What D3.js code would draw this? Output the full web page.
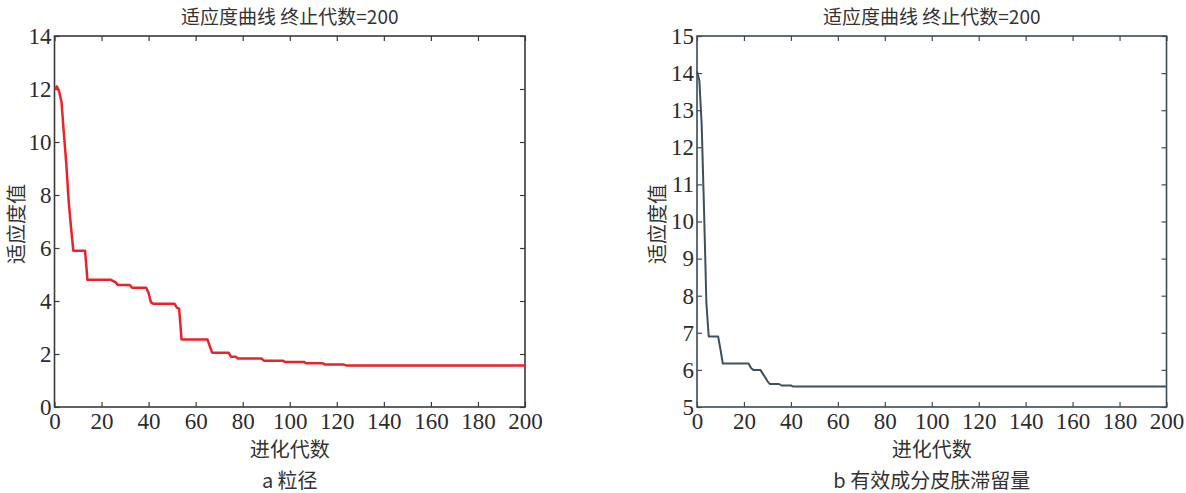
<!DOCTYPE html>
<html>
<head>
<meta charset="utf-8">
<script src="https://cdn.jsdelivr.net/npm/d3@7"></script>
<style>
  body { margin: 0; background: #fff; }
</style>
</head>
<body>
<script>
// generation / fitness pairs
var genA = [0, 1, 2, 3, 4, 5, 6, 7, 8, 13, 14, 24, 25, 26, 27, 32, 33, 39, 40, 41, 42, 51, 52, 53, 54, 65, 66, 67, 74, 75, 77, 78, 88, 89, 97, 98, 106, 107, 114, 115, 123, 124, 200];
var fitA = [12.0, 12.1, 11.9, 11.5, 10.3, 9.2, 7.8, 6.8, 5.9, 5.9, 4.8, 4.8, 4.75, 4.7, 4.6, 4.6, 4.5, 4.5, 4.3, 3.95, 3.9, 3.9, 3.75, 3.7, 2.55, 2.55, 2.3, 2.05, 2.05, 1.9, 1.9, 1.83, 1.83, 1.75, 1.75, 1.7, 1.7, 1.65, 1.65, 1.6, 1.6, 1.57, 1.57];

var genB = [0, 1, 2, 3, 4, 5, 9, 10, 11, 22, 23, 24, 27, 28, 29, 30, 31, 35, 36, 40, 41, 200];
var fitB = [14.05, 13.8, 12.6, 10.3, 7.8, 6.9, 6.9, 6.55, 6.17, 6.17, 6.05, 6.0, 6.0, 5.9, 5.8, 5.7, 5.62, 5.62, 5.58, 5.58, 5.55, 5.55];

var xTicks = [0, 20, 40, 60, 80, 100, 120, 140, 160, 180, 200];
var yTicksA = [0, 2, 4, 6, 8, 10, 12, 14];
var yTicksB = [5, 6, 7, 8, 9, 10, 11, 12, 13, 14, 15];

var chartTitle = "适应度曲线 终止代数=200";
var xLabel = "进化代数";
var yLabel = "适应度值";
var captions = ["a 粒径", "b 有效成分皮肤滞留量"];

var serif = "Liberation Serif";
var cjk = "Noto Sans CJK SC";

var svg = d3.select("body").append("svg")
  .attr("width", 1186)
  .attr("height", 493);

var panels = [
  { left: 54.5, right: 525, top: 36, bottom: 407, gen: genA, fit: fitA, yDomain: [0, 14], yTicks: yTicksA,
    line: "#e8232b", lineWidth: 2.5, frame: "#3a3a3a", yLabelX: 17, caption: captions[0] },
  { left: 697, right: 1166.5, top: 36, bottom: 407, gen: genB, fit: fitB, yDomain: [5, 15], yTicks: yTicksB,
    line: "#3e505c", lineWidth: 2, frame: "#3c4b56", yLabelX: 658, caption: captions[1] }
];

panels.forEach(function (p) {
  var x = d3.scaleLinear().domain([0, 200]).range([p.left, p.right]);
  var y = d3.scaleLinear().domain(p.yDomain).range([p.bottom, p.top]);
  var g = svg.append("g");
  var cx = (p.left + p.right) / 2;

  // inward ticks on all four sides, like the matlab box
  g.append("g").attr("transform", "translate(0," + p.bottom + ")")
    .call(d3.axisBottom(x).tickValues(xTicks).tickSizeInner(-5).tickSizeOuter(0).tickPadding(6));
  g.append("g").attr("transform", "translate(0," + p.top + ")")
    .call(d3.axisTop(x).tickValues(xTicks).tickSizeInner(-5).tickSizeOuter(0).tickFormat(""));
  g.append("g").attr("transform", "translate(" + p.left + ",0)")
    .call(d3.axisLeft(y).tickValues(p.yTicks).tickSizeInner(-5).tickSizeOuter(0).tickPadding(3));
  g.append("g").attr("transform", "translate(" + p.right + ",0)")
    .call(d3.axisRight(y).tickValues(p.yTicks).tickSizeInner(-5).tickSizeOuter(0).tickFormat(""));

  g.selectAll(".domain").remove();
  g.selectAll(".tick line").attr("stroke", p.frame).attr("stroke-width", 1.2);
  g.selectAll(".tick text")
    .attr("font-family", serif)
    .attr("font-size", 23)
    .attr("fill", "#2b2b2b");

  g.append("rect")
    .attr("x", p.left).attr("y", p.top)
    .attr("width", p.right - p.left).attr("height", p.bottom - p.top)
    .attr("fill", "none").attr("stroke", p.frame).attr("stroke-width", 1.6);

  var pts = p.gen.map(function (d, i) { return [d, p.fit[i]]; });
  var line = d3.line()
    .x(function (d) { return x(d[0]); })
    .y(function (d) { return y(d[1]); });

  g.append("path")
    .datum(pts)
    .attr("d", line)
    .attr("fill", "none")
    .attr("stroke", p.line)
    .attr("stroke-width", p.lineWidth)
    .attr("stroke-linejoin", "round");

  g.append("text")
    .attr("x", cx).attr("y", 24)
    .attr("text-anchor", "middle")
    .attr("font-family", cjk).attr("font-size", 19).attr("fill", "#333")
    .text(chartTitle);

  g.append("text")
    .attr("x", cx).attr("y", 457)
    .attr("text-anchor", "middle")
    .attr("font-family", cjk).attr("font-size", 20).attr("fill", "#333")
    .text(xLabel);

  g.append("text")
    .attr("x", cx).attr("y", 488)
    .attr("text-anchor", "middle")
    .attr("font-family", cjk).attr("font-size", 20).attr("fill", "#333")
    .text(p.caption);

  g.append("text")
    .attr("transform", "translate(" + (p.yLabelX + 7) + ",224) rotate(-90)")
    .attr("text-anchor", "middle")
    .attr("font-family", cjk).attr("font-size", 20).attr("fill", "#333")
    .text(yLabel);
});
</script>
</body>
</html>
